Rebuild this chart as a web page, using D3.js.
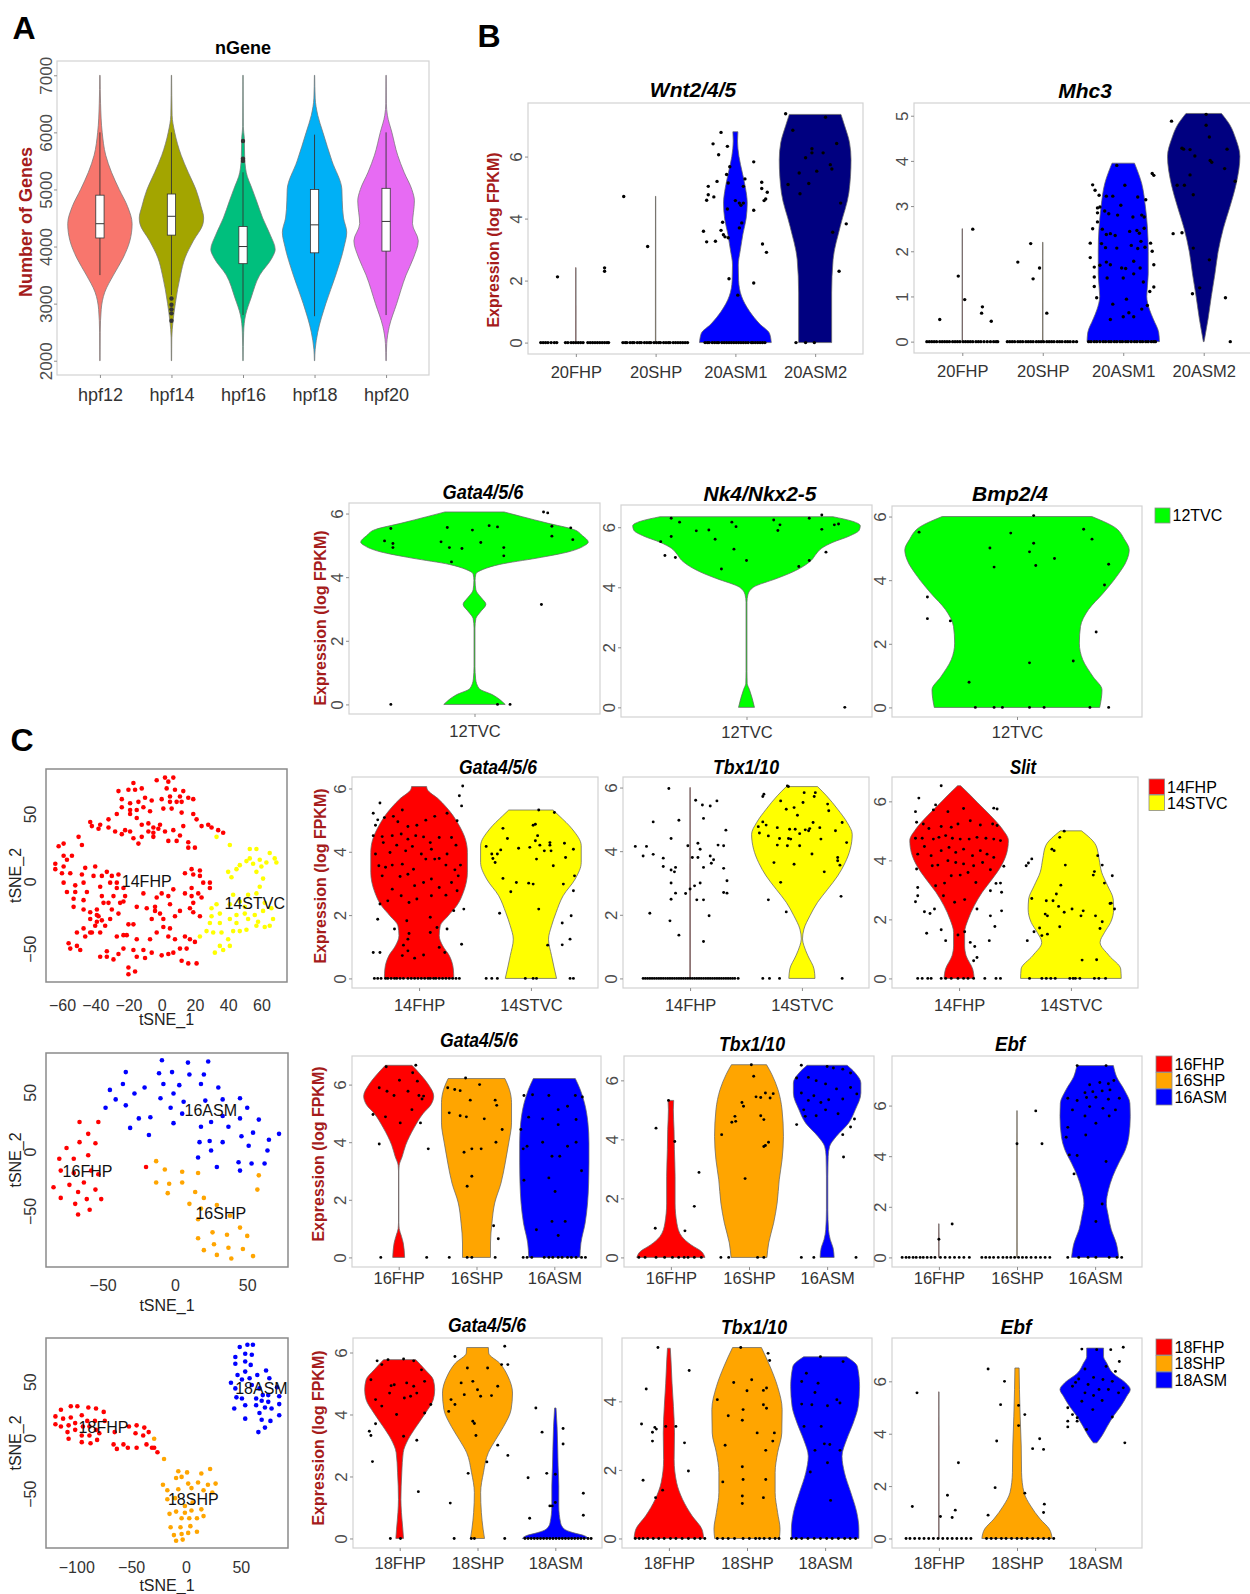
<!DOCTYPE html>
<html>
<head>
<meta charset="utf-8">
<script src="https://cdn.jsdelivr.net/npm/d3@7"></script>
<style>
  body { margin: 0; background: #fff; }
  svg text { font-family: 'Liberation Sans', Arial, Helvetica, sans-serif; }
</style>
</head>
<body>
<svg id="fig" width="1250" height="1594"></svg>
<script>
// ---------- panel A data ----------
const hpfCats = ['hpf12', 'hpf14', 'hpf16', 'hpf18', 'hpf20'];
const hpfColors = ['#F8766D', '#A3A500', '#00BF7D', '#00B0F6', '#E76BF3'];
const nGeneTicks = [2000, 3000, 4000, 5000, 6000, 7000];
// violin profiles: [value, relative half width]
const nGeneShape = [
  [[2000,0.005],[2500,0.01],[2900,0.04],[3200,0.15],[3500,0.42],[3800,0.72],[4100,0.93],[4400,1],[4700,0.86],[5000,0.6],[5300,0.36],[5600,0.18],[6000,0.07],[6500,0.02],[7000,0.005]],
  [[2000,0.005],[2400,0.01],[2700,0.05],[3000,0.12],[3500,0.28],[3800,0.42],[4100,0.68],[4400,0.98],[4500,1],[4700,0.92],[5000,0.76],[5300,0.52],[5600,0.3],[6000,0.1],[6300,0.02],[7000,0.005]],
  [[2000,0.005],[2500,0.02],[2800,0.08],[3100,0.25],[3500,0.52],[3800,0.9],[3950,1],[4200,0.85],[4500,0.61],[4800,0.42],[5000,0.29],[5300,0.1],[5600,0.05],[5900,0.04],[6100,0.01],[7000,0.005]],
  [[2000,0.005],[2200,0.02],[2500,0.1],[3000,0.35],[3500,0.66],[4000,0.92],[4250,1],[4500,0.9],[4800,0.86],[5000,0.85],[5500,0.54],[6000,0.26],[6300,0.1],[6600,0.02],[7000,0.005]],
  [[2000,0.005],[2300,0.02],[2600,0.1],[3000,0.33],[3500,0.62],[3800,0.85],[4100,1],[4400,0.82],[4800,0.88],[5000,0.8],[5300,0.56],[5600,0.36],[6000,0.18],[6300,0.04],[6500,0.01],[7000,0.005]]
];
// [low whisker, q1, median, q3, high whisker]
const nGeneBox = [
  [3500, 4150, 4400, 4900, 6000],
  [3150, 4200, 4530, 4920, 6000],
  [2800, 3700, 4000, 4350, 5300],
  [2780, 3890, 4380, 5000, 5960],
  [2800, 3920, 4440, 5020, 6000]
];
const nGeneOutliers = [[], [3090, 2980, 2900, 2830, 2700], [5500, 5540, 5850], [], []];

// ---------- panel B, 20 hpf ----------
const cats20 = ['20FHP', '20SHP', '20ASM1', '20ASM2'];
const colors20 = ['#ff0000', '#ffa500', '#0000ff', '#000080'];
const wnt20Shape = [
  [[0,0.006],[2.42,0.004]],
  [[0,0.006],[4.72,0.004]],
  [[0,1],[0.3,0.95],[0.6,0.68],[1,0.4],[1.5,0.17],[2,0.09],[2.5,0.08],[3,0.14],[3.5,0.21],[4,0.3],[4.5,0.33],[5,0.28],[5.5,0.19],[6,0.1],[6.5,0.06],[6.8,0.07]],
  [[0,0.46],[1.6,0.46],[2.68,0.5],[3.75,0.7],[4.83,0.94],[5.9,1],[6.44,0.96],[7.0,0.82],[7.36,0.72]]
];
const wnt20Dots = [
  [[-0.23,2.12],[0.36,2.3],[0.36,2.41]],
  [[-0.4,4.71],[-0.1,3.1]],
  [[-0.18,6.78],[-0.28,6.41],[-0.1,6.33],[-0.21,6.06],[-0.07,5.67],[0.23,5.83],[-0.23,5.2],[-0.11,5.42],[-0.09,5.15],[0.12,5.28],[0.1,5.04],[-0.34,5.04],[0.33,5.17],[0.33,4.97],[0.4,4.85],[-0.34,4.77],[-0.27,4.7],[-0.36,4.59],[0,4.58],[0.05,4.5],[0.1,4.5],[0.07,4.43],[0.36,4.58],[0.38,4.63],[-0.1,4.31],[0.23,4.27],[-0.16,3.88],[0.08,3.86],[0.05,3.7],[-0.4,3.59],[-0.18,3.62],[-0.15,3.48],[-0.13,3.41],[-0.09,3.38],[-0.36,3.25],[-0.25,3.27],[0.34,3.18],[0.39,2.91],[-0.08,2.06],[0.23,1.92],[0.03,1.53]],
  [[-0.37,7.38],[-0.28,6.85],[0.13,7.27],[-0.04,6.25],[-0.04,6.12],[-0.12,5.96],[0.1,6.12],[0.27,6.42],[-0.2,5.47],[0.02,5.53],[0.19,5.74],[0.21,5.6],[-0.34,5.1],[-0.08,5.13],[-0.19,4.8],[0.32,4.5],[0.39,3.83],[0.22,3.56],[0.3,2.3]]
];
const wnt20Zero = [
  [-0.44,-0.41,-0.38,-0.35,-0.31,-0.27,-0.24,-0.13,-0.1,-0.06,-0.03,0,0.03,0.06,0.09,0.15,0.18,0.21,0.24,0.27,0.3,0.33,0.36,0.39,0.41],
  [-0.41,-0.38,-0.36,-0.32,-0.29,-0.27,-0.23,-0.2,-0.18,-0.14,-0.11,-0.08,-0.06,-0.02,0.01,0.04,0.06,0.1,0.13,0.16,0.18,0.22,0.25,0.28,0.31,0.34,0.37,0.4],
  [-0.38,-0.35,-0.33,-0.29,-0.26,-0.23,-0.21,-0.17,-0.14,-0.11,-0.08,-0.05,-0.02,0.01,0.04,0.07,0.1,0.13,0.16,0.2,0.22,0.25,0.28,0.31,0.34,0.37],
  [-0.24,-0.12,-0.01]
];
const mhc20Shape = [
  [[0,0.006],[2.5,0.004]],
  [[0,0.006],[2.2,0.004]],
  [[0,1],[0.2,0.98],[0.5,0.83],[0.7,0.73],[1,0.65],[1.5,0.69],[2,0.69],[2.5,0.67],[3,0.61],[3.5,0.51],[3.95,0.31]],
  [[0,0.01],[0.5,0.12],[1,0.21],[1.5,0.31],[2,0.4],[2.5,0.54],[3,0.73],[3.5,0.9],[4.1,1],[4.5,0.88],[4.8,0.72],[5.05,0.49]]
];
const mhc20Dots = [
  [[-0.28,0.49],[-0.05,1.45],[0.03,0.93],[0.13,2.49],[0.25,0.77],[0.24,0.63],[0.36,0.45]],
  [[-0.31,1.76],[-0.15,2.17],[-0.04,1.63],[-0.12,1.39],[0.05,0.63]],
  [[-0.38,3.47],[-0.35,3.35],[-0.3,3.24],[-0.08,3.9],[0.02,3.46],[-0.32,2.96],[-0.29,2.98],[-0.21,3.22],[-0.13,3.22],[-0.03,3.02],[0.18,3.2],[0.28,3.14],[-0.32,2.85],[-0.23,2.89],[-0.18,2.83],[-0.07,2.8],[0.12,2.76],[0.23,2.8],[0.26,2.76],[-0.32,2.65],[-0.38,2.5],[-0.26,2.49],[-0.21,2.37],[-0.16,2.39],[-0.1,2.35],[0.08,2.44],[0.17,2.46],[0.2,2.4],[0.26,2.51],[-0.41,2.18],[-0.27,2.17],[-0.22,2.08],[-0.08,2.07],[0.1,2.13],[0.18,2.06],[0.22,2.22],[0.27,2.09],[0.34,2.18],[0.36,2],[-0.41,1.86],[-0.36,1.65],[-0.29,1.69],[-0.21,1.76],[-0.16,1.7],[-0.02,1.63],[0.03,1.62],[0.13,1.78],[0.21,1.63],[0.38,1.7],[-0.36,1.43],[-0.36,1.22],[-0.33,0.97],[-0.2,1.41],[0,1.41],[0.13,1.5],[0.25,1.32],[0.38,1.21],[0.33,1.11],[0.3,0.8],[0.23,0.72],[-0.13,0.83],[0.04,0.94],[-0.16,0.49],[0,0.55],[0.07,0.64],[0.13,0.55],[0.36,3.72],[0.38,3.68]],
  [[-0.4,4.88],[0.03,5.03],[0.03,4.79],[0.07,4.53],[-0.27,4.28],[-0.25,4.26],[-0.17,4.25],[-0.11,4.11],[0.08,4.01],[0.1,3.97],[0.29,4.26],[-0.17,3.69],[-0.24,3.46],[-0.33,3.46],[-0.13,3.25],[0.26,3.83],[0.39,3.55],[-0.38,2.39],[-0.27,2.41],[-0.13,2.07],[0.07,1.81],[-0.05,1.19],[-0.14,1.06],[0.27,0.97],[0.33,0]]
];
const mhc20Zero = [
  [-0.44,-0.41,-0.38,-0.35,-0.32,-0.28,-0.25,-0.22,-0.19,-0.16,-0.12,-0.09,-0.06,-0.03,0.01,0.04,0.07,0.1,0.13,0.17,0.2,0.23,0.27,0.31,0.35,0.39,0.42,0.44],
  [-0.44,-0.41,-0.38,-0.35,-0.31,-0.28,-0.25,-0.21,-0.18,-0.15,-0.12,-0.08,-0.05,-0.02,0.01,0.05,0.08,0.11,0.14,0.18,0.21,0.24,0.28,0.31,0.34,0.38,0.42],
  [-0.43,-0.4,-0.36,-0.33,-0.29,-0.25,-0.22,-0.18,-0.15,-0.11,-0.08,-0.04,-0.01,0.03,0.06,0.1,0.14,0.17,0.21,0.24,0.28,0.31,0.35,0.38,0.4],
  []
];

// ---------- 12 hpf ----------
const cats12 = ['12TVC'];
const colors12 = ['#00ff00'];
const gata12Shape = [[[0,0.27],[0.3,0.16],[0.5,0.04],[0.8,0.01],[1.2,0.004],[2.4,0.004],[2.7,0.012],[2.9,0.05],[3.15,0.1],[3.35,0.06],[3.6,0.012],[3.9,0.005],[4.1,0.012],[4.25,0.08],[4.4,0.22],[4.6,0.55],[4.8,0.83],[5.0,0.97],[5.1,1],[5.3,0.95],[5.5,0.87],[5.7,0.64],[5.9,0.42],[6.05,0.26]]];
const gata12Dots = [[[-0.43,5.14],[-0.4,5.53],[-0.39,5.06],[-0.39,4.93],[-0.16,5.11],[-0.13,5.56],[-0.12,4.93],[-0.11,4.48],[-0.06,4.9],[-0.01,5.48],[0.03,5.09],[0.07,5.62],[0.11,5.58],[0.14,4.93],[0.14,4.67],[0.33,6.05],[0.35,6.02],[0.37,5.6],[0.37,5.29],[0.46,5.55],[0.47,5.18],[0.32,3.14]]];
const gata12Zero = [[-0.4, 0.11, 0.17]];
const nk12Shape = [[[0,0.07],[0.3,0.05],[0.6,0.025],[0.8,0.006],[1.2,0.004],[3.5,0.004],[3.75,0.012],[4.0,0.06],[4.3,0.27],[4.5,0.4],[4.7,0.5],[4.9,0.57],[5.1,0.61],[5.3,0.66],[5.5,0.76],[5.7,0.9],[5.9,0.99],[6.05,1],[6.2,0.93],[6.35,0.76]]];
const nk12Dots = [[[-0.41,5.52],[-0.39,5.06],[-0.34,4.99],[-0.36,5.69],[-0.36,6.3],[-0.32,6.17],[-0.24,5.88],[-0.18,5.91],[-0.15,5.6],[-0.12,4.61],[-0.07,6.17],[-0.05,6.02],[-0.06,5.27],[0,4.89],[0.13,6.24],[0.16,6.08],[0.15,5.89],[0.25,4.69],[0.3,4.89],[0.3,6.3],[0.36,6.41],[0.36,5.93],[0.38,5.17],[0.42,6.08],[0.44,6.11]]];
const nk12Zero = [[0.47]];
const bmp12Shape = [[[0,0.73],[0.55,0.75],[0.97,0.67],[1.5,0.58],[2.02,0.55],[2.54,0.56],[3.07,0.63],[3.59,0.76],[4.12,0.88],[4.64,0.97],[4.95,0.99],[5.27,0.95],[5.69,0.85],[6.0,0.66]]];
const bmp12Dots = [[[-0.47,5.51],[-0.43,3.47],[-0.43,2.79],[-0.32,2.72],[-0.23,0.79],[-0.13,5.01],[-0.11,4.41],[-0.03,5.48],[0.06,4.89],[0.08,6.03],[0.08,5.16],[0.09,4.46],[0.18,4.68],[0.06,1.4],[0.27,1.46],[0.32,5.6],[0.36,5.29],[0.38,2.37],[0.42,3.85],[0.44,4.5]]];
const bmp12Zero = [[-0.2, -0.11, -0.07, 0.06, 0.13, 0.35, 0.44]];

// ---------- 14 hpf ----------
const cats14 = ['14FHP', '14STVC'];
const colors14 = ['#ff0000', '#ffff00'];
const gata14Shape = [
  [[0,0.69],[0.3,0.68],[0.72,0.6],[1.03,0.47],[1.35,0.4],[1.66,0.42],[1.98,0.58],[2.3,0.75],[2.72,0.88],[3.35,0.96],[3.98,0.96],[4.4,0.92],[4.82,0.8],[5.24,0.63],[5.66,0.39],[5.98,0.16],[6.06,0.15]],
  [[0,0.51],[0.72,0.41],[1.24,0.35],[1.66,0.41],[2.08,0.5],[2.61,0.64],[3.14,0.88],[3.66,1],[4.19,1],[4.72,0.82],[5.14,0.56],[5.32,0.44]]
];
const gata14Dots = [
  [[-0.41,5.22],[-0.35,5.54],[-0.37,5.01],[-0.39,4.84],[-0.31,5.08],[-0.23,5.12],[-0.15,5.32],[-0.19,4.95],[-0.1,4.8],[-0.02,4.84],[0.06,5],[0.14,5.12],[0.25,5.22],[0.34,4.98],[0.36,5.77],[0.38,5.45],[0.39,6.08],[-0.41,4.51],[-0.33,4.48],[-0.24,4.51],[-0.16,4.56],[-0.1,4.4],[-0.03,4.51],[0.04,4.47],[0.1,4.29],[0.18,4.45],[0.29,4.45],[0.33,4.21],[-0.39,3.93],[-0.32,4.29],[-0.26,3.98],[-0.2,4.21],[-0.12,4.03],[-0.06,4.17],[0.02,3.93],[0.11,4.08],[0.18,3.79],[0.25,3.93],[-0.36,3.56],[-0.3,3.51],[-0.24,3.58],[-0.15,3.61],[-0.1,3.29],[-0.05,3.45],[0.06,3.77],[0.14,3.77],[0.24,3.58],[0.32,3.43],[0.37,3.58],[-0.33,3.24],[-0.17,3.22],[-0.04,2.93],[0.04,3.03],[0.11,3.14],[0.18,2.87],[0.29,3.03],[0.35,3.24],[-0.24,2.82],[-0.16,2.61],[-0.09,2.4],[-0.02,2.51],[0.11,2.61],[0.24,2.63],[0.34,2.77],[-0.35,2.35],[-0.28,2.45],[0.31,2.14],[0.4,2.19],[-0.37,1.87],[-0.11,1.82],[0.1,1.93],[0.16,1.61],[0.25,1.56],[-0.22,1.56],[-0.09,1.42],[0.1,1.45],[0.38,1.08],[-0.41,0.82],[-0.35,0.82],[-0.14,1.05],[-0.1,0.87],[0.04,0.74],[-0.04,0.64],[-0.15,0.72],[0.18,0.98],[0.23,0.82],[-0.1,1.24]],
  [[0.07,5.32],[0.21,5.24],[-0.25,4.74],[-0.21,4.42],[-0.4,4.17],[-0.35,3.93],[-0.34,3.79],[-0.32,3.66],[-0.3,3.93],[-0.27,4.06],[-0.11,4.11],[-0.01,4.14],[0.04,4.35],[0.06,4.51],[0.02,4.84],[0.04,4.87],[0.08,4.21],[0.12,4.03],[0.17,4.21],[0.18,4.03],[0.17,4.29],[0.3,4.27],[0.38,4.08],[0.2,3.56],[0.05,3.77],[0.31,3.82],[-0.25,3.16],[-0.13,3.03],[-0.02,3.01],[0.02,2.98],[0.39,3.24],[0.29,2.98],[-0.18,2.74],[0.38,2.77],[0.07,2.19],[-0.28,2.06],[0.36,1.98],[0.28,1.75],[0.35,1.24],[0.15,1.05],[0.28,1.06]]
];
const gata14Zero = [
  [-0.4,-0.37,-0.34,-0.3,-0.28,-0.25,-0.22,-0.2,-0.17,-0.14,-0.1,-0.07,-0.04,-0.01,0.02,0.05,0.08,0.1,0.13,0.15,0.18,0.21,0.24,0.27,0.3,0.33,0.36],
  [-0.4,-0.35,-0.3,-0.05,0.02,0.05,0.35,0.38]
];
const tbx14Shape = [
  [[0,0.006],[6.0,0.004]],
  [[0,0.26],[0.3,0.24],[0.71,0.12],[1.03,0.04],[1.24,0.012],[1.55,0.04],[1.97,0.16],[2.39,0.31],[2.8,0.51],[3.22,0.71],[3.64,0.86],[4.06,0.96],[4.53,1],[4.9,0.9],[5.32,0.71],[5.74,0.49],[6.03,0.31]]
];
const tbx14Dots = [
  [[-0.19,5.97],[0.05,5.6],[0.11,5.45],[0.18,5.42],[0.24,5.58],[-0.33,4.92],[-0.1,4.97],[0.12,5.03],[0.32,4.66],[-0.17,4.4],[-0.49,4.15],[-0.39,4.15],[-0.42,3.85],[-0.33,3.9],[-0.02,4.17],[0.07,4.25],[0.09,4.06],[0.18,3.85],[0.25,4.19],[0.3,4.17],[0.02,3.8],[0.07,3.8],[0.21,3.73],[-0.24,3.78],[0.19,3.62],[-0.24,3.52],[-0.13,3.49],[-0.14,3.35],[0.12,3.49],[-0.17,3.41],[0.3,3.46],[-0.17,3],[0.09,3],[0.33,3.07],[0.04,2.91],[0,2.81],[-0.04,2.67],[-0.13,2.68],[0.3,2.7],[0.33,2.68],[0.12,2.47],[0.06,2.47],[-0.17,2.49],[-0.36,2.05],[0.17,1.97],[-0.18,1.81],[-0.1,1.36],[0.12,1.16]],
  [[-0.34,5.79],[-0.35,5.72],[-0.13,6.05],[-0.12,6.03],[-0.19,5.58],[0.02,5.84],[0.01,5.53],[0.12,5.84],[0.11,5.72],[0.23,5.48],[0.24,5.27],[-0.14,5.32],[-0.07,5.37],[-0.04,5.13],[0.1,4.9],[-0.35,4.92],[-0.39,4.77],[-0.32,4.82],[-0.22,4.74],[-0.11,4.69],[-0.06,4.69],[0.03,4.67],[0.07,4.71],[0.06,4.64],[0.16,4.74],[0.36,4.9],[-0.38,4.57],[-0.3,4.48],[-0.2,4.4],[-0.12,4.4],[-0.1,4.38],[-0.02,4.55],[0.17,4.38],[0.3,4.64],[0.4,4.27],[-0.22,4.19],[-0.13,4.17],[-0.02,4.17],[0.09,3.91],[0.32,3.8],[0.32,3.7],[0.34,3.56],[-0.25,3.64],[-0.07,3.59],[0.2,3.35],[-0.19,3.02],[0.35,2.58],[-0.3,2.47],[-0.14,2.09]]
];
const tbx14Zero = [
  [-0.42,-0.4,-0.38,-0.36,-0.34,-0.32,-0.3,-0.28,-0.26,-0.24,-0.22,-0.2,-0.18,-0.16,-0.14,-0.12,-0.1,-0.08,-0.06,-0.04,-0.02,0,0.02,0.04,0.06,0.08,0.1,0.12,0.14,0.16,0.18,0.2,0.22,0.24,0.26,0.28,0.3,0.32,0.34,0.36,0.38,0.4,0.43],
  [-0.35,-0.29,-0.2,0.36]
];
const slit14Shape = [
  [[0,0.3],[0.32,0.27],[0.77,0.14],[1.1,0.11],[1.56,0.11],[2.0,0.18],[2.46,0.3],[2.92,0.46],[3.37,0.66],[3.82,0.84],[4.27,0.95],[4.67,0.98],[5.06,0.86],[5.51,0.63],[5.97,0.36],[6.3,0.17],[6.53,0.03]],
  [[0,1],[0.32,0.99],[0.77,0.76],[1.22,0.58],[1.56,0.67],[1.9,0.79],[2.35,0.85],[2.69,0.84],[3.14,0.73],[3.6,0.61],[4.05,0.56],[4.5,0.5],[5.0,0.21]]
];
const slit14Dots = [
  [[-0.16,6.53],[-0.36,6.11],[-0.21,5.88],[-0.23,5.71],[-0.1,5.65],[0.04,5.76],[0.31,5.77],[0.34,5.74],[-0.39,5.65],[-0.38,5.29],[-0.32,5.23],[-0.27,5.08],[-0.16,5.15],[-0.07,5.12],[-0.01,5.23],[0.1,5.34],[0.19,5.2],[0.3,5.23],[0.34,5.18],[-0.39,4.75],[-0.33,4.75],[-0.23,4.72],[-0.18,4.78],[-0.12,4.84],[-0.06,4.75],[0.01,4.72],[0.09,4.72],[0.16,4.78],[0.24,4.75],[0.31,4.72],[0.37,4.67],[-0.37,4.21],[-0.31,4.47],[-0.25,4.16],[-0.16,4.33],[-0.09,4.44],[-0.03,4.27],[0.04,4.38],[0.12,4.16],[0.19,4.33],[0.25,4.21],[0.31,4.1],[-0.24,3.82],[-0.19,3.84],[-0.1,3.99],[-0.03,3.93],[0.04,3.88],[0.13,3.82],[0.21,3.93],[0.28,3.68],[0.4,3.8],[-0.38,3.71],[-0.07,3.48],[0.01,3.5],[0.08,3.59],[0.15,3.25],[0.33,3.22],[0.37,3.23],[-0.37,3.08],[-0.21,3.14],[-0.13,3.23],[0.28,2.97],[0.38,2.92],[-0.39,2.6],[-0.37,2.8],[-0.14,2.8],[-0.04,2.58],[0.05,2.67],[-0.31,2.26],[-0.26,2.2],[-0.22,2.35],[0.16,2.35],[0.28,2.12],[0.38,2.29],[-0.16,1.65],[0.05,1.58],[0.32,1.76],[-0.29,1.53],[-0.12,1.28],[-0.01,1.47],[0.1,1.22],[0.14,1.08],[0.27,1.28],[0.16,0.71],[0.13,0.6]],
  [[-0.06,4.99],[-0.1,4.78],[-0.17,4.38],[-0.15,4.33],[-0.4,3.82],[-0.38,3.91],[-0.35,4.05],[-0.05,3.84],[0.24,4.16],[0.28,3.84],[0.37,3.48],[0.2,3.5],[0.21,3.62],[-0.09,3.16],[0.3,3.23],[-0.35,2.71],[-0.13,2.86],[-0.22,2.63],[-0.16,2.63],[-0.11,2.44],[-0.06,2.24],[0.01,2.35],[0.11,2.29],[0.09,2.12],[0.35,2.54],[0.36,2.55],[0.39,2.35],[-0.23,2.18],[-0.21,2.12],[0.22,2.12],[0.28,1.92],[-0.1,1.75],[-0.28,1.71],[-0.33,1.58],[-0.26,1.45],[-0.21,1.5],[0.26,1.69],[-0.39,1.28],[0.1,0.62],[0.23,0.63]]
];
const slit14Zero = [
  [-0.37,-0.33,-0.28,-0.25,-0.16,-0.12,-0.07,-0.01,0.04,0.08,0.13,0.23,0.33,0.37],
  [-0.37,-0.26,-0.22,-0.18,-0.14,-0.01,0.02,0.04,0.08,0.21,0.25,0.31]
];

// ---------- 16 hpf ----------
const cats16 = ['16FHP', '16SHP', '16ASM'];
const colors16 = ['#ff0000', '#ffa500', '#0000ff'];
const gata16Shape = [
  [[0,0.17],[0.5,0.13],[0.73,0.08],[1.0,0.015],[1.2,0.005],[3.0,0.005],[3.2,0.015],[3.5,0.1],[3.9,0.2],[4.5,0.44],[5.0,0.7],[5.3,0.92],[5.6,1],[6.0,0.85],[6.3,0.66],[6.67,0.38]],
  [[0,0.4],[0.5,0.4],[1.19,0.44],[1.89,0.52],[2.58,0.7],[3.28,0.82],[3.97,0.92],[4.67,1],[5.37,1],[5.83,0.94],[6.21,0.81]],
  [[0,0.73],[0.5,0.76],[1.19,0.88],[1.89,0.95],[2.58,0.98],[3.28,0.99],[3.97,0.99],[4.67,0.96],[5.37,0.86],[5.83,0.74],[6.21,0.6]]
];
const gata16Dots = [
  [[-0.16,6.62],[0.22,6.67],[-0.25,5.89],[-0.15,5.77],[-0.06,5.62],[0.01,6.15],[0.12,5.77],[0.24,6.12],[0.26,5.62],[0.3,5.5],[0.32,5.6],[0.18,6.41],[-0.33,4.96],[-0.17,4.88],[0.17,5.13],[0.02,4.67],[0.28,4.67],[-0.25,3.94],[0.38,3.77]],
  [[-0.37,5.89],[-0.14,6.23],[-0.28,5.83],[-0.21,5.79],[0.04,6],[-0.35,5.02],[-0.21,4.92],[-0.13,4.88],[0.1,4.81],[0.24,5.46],[0.26,5.28],[0.33,4.44],[-0.08,5.46],[-0.06,3.77],[-0.16,3.65],[0.06,3.77],[0.25,4],[-0.12,2.47],[-0.06,2.82],[0.22,1.1],[0.28,0.65]],
  [[-0.39,5.62],[-0.28,5.65],[-0.07,5.62],[0.27,5.62],[0.36,5.57],[0.17,5.25],[-0.33,4.87],[-0.15,4.81],[0.05,5.13],[0.05,4.61],[0.28,4.79],[-0.43,4.44],[-0.4,3.77],[-0.35,3.86],[-0.15,4],[-0.03,3.51],[0.07,3.51],[0.28,4],[0.17,3.86],[-0.39,2.68],[-0.07,2.76],[0.01,2.29],[0.35,3.01],[-0.23,0.96],[-0.03,1.25],[0.14,1.25],[0.05,0.76]]
];
const gata16Zero = [
  [-0.23, 0.36],
  [-0.35, -0.12, -0.06, 0.24],
  [-0.4,-0.35,-0.29,-0.13,-0.07,-0.02,0.05,0.1,0.17,0.22,0.28,0.35,0.4]
];
const tbx16Shape = [
  [[0,0.97],[0.2,0.87],[0.43,0.57],[0.71,0.31],[1.16,0.17],[1.84,0.12],[2.75,0.12],[3.65,0.1],[4.33,0.09],[5.0,0.07],[5.32,0.08]],
  [[0,0.51],[0.49,0.56],[1.16,0.7],[1.84,0.8],[2.63,0.86],[3.31,0.94],[4.1,0.98],[5.0,0.94],[5.7,0.82],[6.2,0.65],[6.53,0.5]],
  [[0,0.2],[0.32,0.17],[0.6,0.09],[0.94,0.04],[1.62,0.02],[2.75,0.02],[3.42,0.03],[3.76,0.07],[4.1,0.26],[4.55,0.61],[5.0,0.8],[5.57,0.96],[5.91,0.96],[6.25,0.8],[6.51,0.57]]
];
const tbx16Dots = [
  [[-0.03,5.32],[-0.19,4.38],[0.05,3.93],[0.36,2.88],[0.3,1.73],[-0.2,0.99],[0.18,0.9]],
  [[0.03,6.53],[0.06,6.14],[0.21,5.57],[0.31,5.55],[0.27,5.4],[0.09,5.44],[0.15,5.42],[-0.09,5.25],[-0.07,5.12],[-0.18,4.78],[-0.17,4.61],[-0.22,4.58],[0.15,4.8],[0.19,4.67],[-0.35,4.16],[0.21,3.79],[0.25,3.9],[0.19,3.76],[-0.05,2.67]],
  [[-0.33,6.51],[0,6.47],[0.08,6.42],[0.2,6.38],[0.3,6.25],[-0.39,6.08],[-0.24,6.1],[-0.14,5.99],[-0.02,5.88],[0.12,5.71],[0.3,5.76],[0.38,5.54],[-0.33,5.57],[-0.17,5.48],[-0.24,5.32],[-0.08,5.25],[0.02,5.34],[0.2,5.37],[-0.3,5],[-0.14,4.8],[-0.28,4.78],[-0.02,5],[0.14,4.87],[0.35,4.69],[-0.39,4.5],[0.3,4.42],[0.2,4.16],[0.21,3.4]]
];
const tbx16Zero = [
  [-0.41,-0.33,-0.19,-0.08,0.02,0.1,0.17,0.22,0.3,0.39],
  [-0.36,-0.26,0.11,0.19],
  [-0.33,-0.17,0.37]
];
const ebf16Shape = [
  [[0,0.006],[1.33,0.004]],
  [[0,0.006],[5.8,0.004]],
  [[0,0.67],[0.57,0.6],[1.09,0.46],[1.62,0.38],[2.14,0.32],[2.67,0.38],[3.2,0.5],[3.72,0.67],[4.25,0.86],[4.78,0.96],[5.57,1],[6.09,0.99],[6.62,0.83],[7.14,0.61],[7.58,0.52]]
];
const ebf16Dots = [
  [[0,0.72],[0.17,1.32]],
  [[0,4.49],[0.24,5.79],[0.32,4.49]],
  [[-0.23,7.58],[0.14,7.58],[-0.07,6.82],[0.06,6.91],[0.17,6.86],[0.24,6.99],[-0.13,6.51],[-0.03,6.55],[0.09,6.58],[0.19,6.62],[-0.35,6.29],[-0.23,6.2],[-0.11,6.32],[0.01,6.33],[0.17,6.25],[0.31,6.29],[-0.29,5.83],[-0.07,5.96],[0.1,5.89],[0.26,5.83],[-0.13,5.59],[0.18,5.59],[-0.35,5.14],[0.01,5.3],[-0.37,4.75],[-0.12,4.84],[-0.33,4.05],[-0.23,4.03],[0.14,3.79],[-0.27,3.3],[0.09,2.11],[0.01,1.42]]
];
const ebf16Zero = [
  [-0.47,-0.42,-0.38,-0.33,-0.29,-0.24,-0.2,-0.15,-0.1,-0.05,0.02,0.08,0.14,0.2,0.26,0.32,0.39],
  [-0.45,-0.4,-0.35,-0.3,-0.24,-0.18,-0.13,-0.08,-0.03,0.02,0.07,0.12,0.18,0.24,0.3,0.36,0.42],
  [-0.35,-0.21,-0.09,0.01,0.18,0.28,0.34]
];

// ---------- 18 hpf ----------
const cats18 = ['18FHP', '18SHP', '18ASM'];
const colors18 = ['#ff0000', '#ffa500', '#0000ff'];
const gata18Shape = [
  [[0,0.11],[0.3,0.09],[0.84,0.05],[1.26,0.035],[2.12,0.06],[2.77,0.1],[3.19,0.24],[3.62,0.48],[4.05,0.74],[4.48,0.96],[4.8,1],[5.12,0.96],[5.44,0.73],[5.77,0.46]],
  [[0,0.2],[0.3,0.16],[0.84,0.11],[1.48,0.09],[2.12,0.17],[2.77,0.31],[3.19,0.52],[3.62,0.75],[4.16,0.96],[4.69,1],[5.23,0.87],[5.66,0.63],[5.98,0.32],[6.16,0.31]],
  [[0,0.94],[0.09,0.83],[0.19,0.5],[0.3,0.26],[0.51,0.15],[1.05,0.1],[1.69,0.1],[2.34,0.08],[2.87,0.07],[3.62,0.05],[4.21,0.02]]
];
const gata18Dots = [
  [[-0.29,5.73],[-0.15,5.77],[0.05,5.79],[0.18,5.73],[-0.23,5.61],[0.28,5.44],[-0.37,5.12],[-0.11,4.93],[-0.07,4.96],[0.09,5.02],[0.18,4.91],[0.32,5.07],[-0.31,4.48],[-0.13,4.69],[0.14,4.59],[0.22,4.69],[0.4,4.32],[-0.23,4.27],[-0.04,4],[0.06,4.53],[-0.31,3.7],[0.32,4.05],[-0.39,3.46],[-0.37,3.32],[0.05,3.3],[0.22,3.17],[-0.35,2.48],[0.24,1.51]],
  [[-0.29,5.87],[-0.13,5.5],[-0.21,5.02],[-0.34,4.48],[-0.29,4.32],[-0.37,4.1],[-0.17,4.64],[-0.06,5.07],[0,4.8],[0.13,5.5],[0.18,4.61],[0.04,4.59],[0.26,4.91],[0.31,5.61],[0.35,6.2],[0.39,5.61],[-0.04,3.71],[-0.02,3.32],[-0.06,3.78],[0.12,2.47],[-0.12,2.1],[0.26,3.01],[0.39,2.68],[-0.35,1.14]],
  [[-0.25,4.21],[-0.17,3.43],[0.1,3.55],[0.1,3.05],[-0.35,1.96],[-0.11,2.1],[0,2.07],[0.36,1.46],[-0.07,1.05],[-0.04,1.05],[-0.33,0.65],[0.36,0.75],[0,1.16]]
];
const gata18Zero = [
  [-0.12, 0.01],
  [-0.3, -0.08, -0.04, 0.35],
  [-0.39,-0.35,-0.31,-0.27,-0.23,-0.19,-0.15,-0.11,-0.07,-0.03,0.01,0.05,0.09,0.13,0.17,0.21,0.25,0.29,0.33,0.37,0.42,0.46]
];
const tbx18Shape = [
  [[0,0.99],[0.27,0.94],[0.66,0.66],[1.14,0.39],[1.63,0.22],[2.3,0.15],[3.08,0.16],[3.85,0.13],[4.53,0.09],[5.21,0.06],[5.55,0.04]],
  [[0,0.92],[0.27,0.94],[0.76,0.87],[1.34,0.8],[1.92,0.8],[2.5,0.87],[3.08,0.99],[3.76,1],[4.43,0.87],[5.01,0.66],[5.57,0.41]],
  [[0,0.96],[0.27,0.96],[0.76,0.9],[1.34,0.73],[1.92,0.55],[2.4,0.48],[2.88,0.61],[3.37,0.8],[3.85,0.94],[4.43,0.98],[5.01,0.92],[5.3,0.61]]
];
const tbx18Dots = [
  [[-0.14,5.57],[-0.29,4.36],[0.26,4.9],[-0.35,3.34],[-0.18,3.24],[-0.21,3.1],[-0.16,3.19],[0.09,3.27],[-0.04,3.27],[-0.21,2.84],[0.2,2.79],[0.25,1.97],[-0.33,1.7],[-0.08,1.41],[-0.17,1.19]],
  [[-0.08,5.57],[0.27,5.4],[0.29,5.19],[-0.17,4.55],[0.06,4.63],[0.25,4.39],[0.21,4.32],[0,4.31],[-0.38,4.05],[0.21,3.9],[0.25,3.8],[-0.24,3.58],[-0.05,3.76],[-0.06,3.45],[0.13,3.08],[0.35,3.08],[0.33,2.84],[-0.28,2.72],[0.24,2.57],[-0.06,2.09],[-0.05,1.72],[-0.31,1.65],[0.24,1.72],[-0.06,1.24],[-0.06,1.02],[0.21,1.19]],
  [[-0.06,5.3],[0.23,5.16],[-0.24,4.82],[-0.09,4.53],[-0.13,4.26],[0.15,4.05],[-0.3,3.92],[-0.17,3.9],[0.03,3.87],[0.19,3.95],[-0.27,3.27],[-0.05,3.27],[-0.01,2.76],[0.06,2.74],[0.19,2.57],[-0.13,2.57],[0.03,2.21],[-0.19,1.94],[0.07,1.11],[-0.3,4.58]]
];
const tbx18Zero = [
  [-0.43,-0.38,-0.33,-0.27,-0.2,-0.13,-0.06,0.02,0.09,0.17,0.25,0.33,0.4,0.46],
  [-0.38,-0.31,-0.24,-0.16,-0.05,0.03,0.11,0.16,0.22,0.29,0.36,0.41],
  [-0.43,-0.37,-0.3,-0.22,-0.14,-0.06,0.02,0.09,0.17,0.25,0.32,0.39]
];
const ebf18Shape = [
  [[0,0.006],[5.6,0.004]],
  [[0,1],[0.36,0.92],[0.74,0.66],[1.24,0.39],[1.75,0.2],[2.51,0.13],[3.53,0.12],[4.67,0.09],[5.69,0.07],[6.51,0.06]],
  [[3.65,0.05],[3.91,0.19],[4.29,0.35],[4.67,0.52],[5.05,0.73],[5.43,0.9],[5.69,1],[5.94,0.87],[6.32,0.5],[6.7,0.33],[6.95,0.24],[7.27,0.24]]
];
const ebf18Dots = [
  [[-0.28,5.56],[-0.34,1.22],[0.25,2.89],[0.11,1.65],[0.21,1.08],[0.17,0.8],[0.02,0.84]],
  [[-0.37,6.47],[-0.16,6],[-0.21,5.11],[0.02,5.08],[0.02,4.31],[0.1,4.73],[-0.26,3.72],[0.29,3.81],[0.2,3.43],[0.34,3.4],[-0.28,1.94],[0.1,1.73],[-0.37,0.89],[0.35,1.31],[0.34,0.99]],
  [[-0.17,7.23],[0.02,7.21],[0.2,7.21],[0.36,7.3],[0.31,6.76],[0.14,6.57],[-0.13,6.47],[0.26,6.38],[-0.21,6.09],[-0.02,6.15],[0.1,6.07],[-0.25,5.96],[-0.09,5.88],[0.22,6],[0.36,5.75],[-0.29,5.81],[0.05,5.69],[0.17,5.69],[-0.13,5.56],[-0.02,5.46],[0.3,5.56],[-0.17,5.24],[0.09,5.27],[-0.35,4.99],[-0.29,4.73],[-0.03,4.92],[-0.23,4.61],[-0.35,4.48],[-0.23,4.48],[-0.11,4.16],[-0.35,4.26],[0.22,4.64],[0.38,3.65]]
];
const ebf18Zero = [
  [-0.42,-0.37,-0.31,-0.25,-0.19,-0.13,-0.07,-0.01,0.05,0.11,0.17,0.23,0.29,0.35,0.41],
  [-0.39,-0.33,-0.27,-0.2,-0.14,-0.07,0,0.06,0.13,0.2,0.27,0.34,0.41,0.47],
  []
];

// ---------- tSNE data ----------
const tsne14Fhp = [[-3,75],[2,77],[7,77],[4,74],[3,69],[8,68],[13,67],[5,63],[11,63],[16,62],[19,61],[-26,67],[-20,68],[-16,68],[-12,69],[-17,73],[-24,61],[-19,58],[-14,59],[-10,62],[-6,60],[0,61],[5,59],[9,59],[12,59],[-24,55],[-19,53],[-15,53],[-11,55],[-7,52],[1,54],[6,54],[12,51],[19,50],[21,46],[24,41],[28,42],[30,40],[34,38],[37,36],[13,41],[7,38],[2,37],[-1,42],[-5,40],[-8,43],[-12,42],[-15,47],[-19,50],[-27,50],[-32,46],[-37,42],[-38,39],[-42,41],[-43,44],[-32,40],[-28,37],[-24,35],[-22,38],[-19,37],[-17,32],[-14,28],[-12,33],[-8,37],[-5,36],[-2,39],[-5,33],[4,30],[9,30],[11,34],[16,29],[20,25],[16,25],
  [-62,26],[-59,28],[-50,33],[-48,27],[-54,19],[-57,16],[-59,19],[-64,13],[-59,11],[-64,9],[-60,6],[-55,6],[-59,-1],[-57,-8],[-52,-3],[-52,-8],[-53,-13],[-53,-19],[-46,10],[-48,5],[-47,-1],[-45,-8],[-47,-14],[-47,-21],[-43,-23],[-40,11],[-41,4],[-36,4],[-33,7],[-37,-4],[-36,-11],[-35,-16],[-39,-21],[-38,-26],[-39,-30],[-43,-28],[-40,-33],[-36,-29],[-43,-38],[-47,-35],[-51,-38],[-46,-41],[-42,-38],[-37,-38],[-34,-33],[-31,-28],[-30,-21],[-32,-16],[-29,-11],[-27,-5],[-31,-1],[-30,4],[-26,5],[-27,-1],[-23,-5],[-22,-11],[-25,-16],[-26,-24],[-23,-15],[-23,-40],[-20,-32],[-17,-32],[-21,-40],[-15,-43],[-17,-51],[-15,-56],[-10,-57],[-11,-51],[-6,-53],[-7,-43],[-3,-38],[1,-34],[5,-35],[4,-41],[8,-43],[0,-55],[4,-54],[7,-53],[11,-50],[15,-50],[17,-43],[20,-45],[12,-59],[16,-61],[21,-61],[-51,-48],[-49,-51],[-56,-46],[-55,-50],[-27,-41],[-33,-52],[-29,-58],[-26,-54],[-37,-56],[-33,-56],[-23,-50],[-20,-64],[-16,-67],[-20,-69],[14,6],[18,9],[19,5],[23,4],[18,-5],[14,-9],[18,-11],[22,-9],[19,-16],[17,-20],[19,-23],[23,-26],[24,-12],[29,-1],[29,-5],[7,-6],[4,-11],[0,-9],[-3,-12],[-4,-19],[-4,-22],[-1,-24],[-6,-28],[1,-28],[5,-17],[8,-26],[11,-22],[14,-41],[25,-1],[-11,-9],[-9,-20],[-15,-19],[-39,-25],[23,8]];
const tsne14Stvc = [[33,33],[41,27],[40,7],[42,3],[45,9],[47,12],[51,15],[53,17],[53,24],[57,24],[59,16],[55,13],[57,7],[60,11],[63,14],[65,21],[68,17],[69,14],[61,2],[59,-4],[57,-9],[52,-10],[50,-19],[47,-15],[43,-10],[41,-17],[30,-20],[33,-17],[35,-24],[30,-26],[35,-31],[29,-31],[31,-38],[36,-38],[40,-43],[35,-48],[32,-53],[37,-51],[41,-48],[45,-31],[41,-28],[45,-25],[50,-24],[52,-28],[56,-25],[58,-30],[61,-22],[62,-16],[66,-20],[67,-28],[62,-34],[65,-33],[57,-33],[51,-36],[47,-37],[43,-37],[23,-41],[27,-37]];
const tsne16Fhp = [[-66,25],[-53,25],[-60,15],[-55,7],[-66,8],[-75,3],[-60,-3],[-80,-6],[-70,-6],[-79,-16],[-70,-18],[-53,-19],[-84,-30],[-73,-28],[-63,-26],[-55,-32],[-79,-39],[-67,-34],[-61,-40],[-51,-40],[-69,-44],[-59,-49],[-67,-53],[-20,-13],[-58,-16]];
const tsne16Shp = [[-13,-8],[-7,-15],[5,-17],[16,-18],[-13,-26],[-4,-27],[5,-26],[-5,-35],[14,-34],[20,-39],[10,-44],[18,-48],[29,-45],[16,-57],[38,-54],[26,-68],[36,-70],[45,-64],[50,-71],[16,-73],[27,-78],[37,-81],[47,-82],[20,-83],[29,-87],[39,-90],[54,-88],[58,-20],[57,-32]];
const tsne16Asm = [[-9,77],[9,75],[23,76],[-34,67],[-11,66],[-2,67],[10,65],[20,65],[-45,52],[-36,57],[-21,54],[-8,57],[3,56],[18,57],[30,54],[-41,44],[-28,49],[-10,45],[-1,49],[6,42],[21,43],[33,44],[45,45],[-48,37],[-34,39],[-3,37],[5,32],[50,37],[-25,28],[-17,29],[-31,20],[-1,24],[18,21],[25,25],[33,30],[37,21],[45,28],[58,27],[-18,14],[17,8],[24,9],[33,8],[46,13],[54,16],[65,10],[16,-5],[25,1],[51,5],[64,1],[72,15],[29,-13],[44,-9],[45,-16],[53,-10],[62,-10]];
const tsne18Fhp = [[-119,19],[-114,25],[-105,28],[-99,28],[-89,27],[-82,26],[-75,23],[-119,12],[-112,17],[-105,18],[-95,20],[-114,10],[-107,11],[-101,13],[-90,15],[-83,15],[-74,15],[-108,5],[-101,7],[-94,10],[-88,10],[-82,7],[-95,2],[-88,2],[-79,4],[-107,-1],[-95,-4],[-87,-5],[-81,-2],[-65,5],[-52,10],[-45,11],[-38,9],[-34,5],[-66,-6],[-63,-10],[-57,-6],[-53,-9],[-46,4],[-45,-9],[-39,2],[-36,-6],[-31,-9],[-26,-13],[-29,-9]];
const tsne18Shp = [[-29,-1],[-20,-19],[-7,-30],[1,-31],[14,-32],[22,-28],[-21,-42],[-9,-36],[-4,-35],[2,-41],[11,-40],[20,-42],[27,-41],[-17,-47],[-7,-46],[5,-45],[16,-47],[24,-49],[-17,-55],[-10,-54],[-1,-61],[6,-58],[-15,-68],[-9,-66],[-1,-67],[5,-65],[14,-64],[16,-70],[-4,-72],[3,-72],[10,-72],[-14,-80],[-5,-80],[4,-79],[10,-84],[-11,-87],[-4,-86],[2,-85],[-9,-92],[-3,-91]];
const tsne18Asm = [[49,81],[56,83],[61,83],[45,72],[54,75],[60,74],[45,66],[54,68],[59,65],[47,56],[54,59],[73,60],[41,49],[51,52],[58,53],[65,56],[76,53],[45,44],[60,47],[67,44],[83,45],[46,36],[51,35],[64,35],[70,38],[75,38],[85,37],[54,29],[64,29],[69,33],[75,32],[85,30],[44,26],[67,22],[72,27],[78,26],[54,17],[69,16],[77,15],[85,20],[72,9],[66,5]];

// ---------- drawing ----------
const svg = d3.select('#fig');
const DARKRED = '#a51c1c';
const TICKCOL = '#4d4d4d';

function panelLetter(t, x, y) {
  svg.append('text').attr('x', x).attr('y', y).text(t)
    .attr('font-size', 32).attr('font-weight', 'bold').attr('text-anchor', 'middle');
}

function rotatedTitle(t, x, cy, size, color) {
  svg.append('text').text(t)
    .attr('transform', `translate(${x},${cy}) rotate(-90)`)
    .attr('text-anchor', 'middle').attr('font-size', size)
    .attr('font-weight', 'bold').attr('fill', color);
}

function violinPanel(p, cats, colors, shapes, dots, zeros) {
  const span = p.yMax - p.yMin;
  const y = d3.scaleLinear()
    .domain([p.yMin - 0.05 * span, p.yMax + 0.05 * span])
    .range([p.bottom, p.top]);
  const x = d3.scalePoint().domain(cats).range([p.left, p.right]).padding(0.6);
  const step = x.step();
  const k = step * (p.vw || 0.45);
  const g = svg.append('g');

  g.append('rect')
    .attr('x', p.left).attr('y', p.top)
    .attr('width', p.right - p.left).attr('height', p.bottom - p.top)
    .attr('fill', '#fff').attr('stroke', '#d2d2d2').attr('stroke-width', 1.2);

  const yAxis = g.append('g')
    .attr('transform', `translate(${p.left},0)`)
    .call(d3.axisLeft(y).tickValues(p.ticks).tickSize(3).tickFormat(d3.format('d')));
  yAxis.select('.domain').remove();
  yAxis.attr('font-family', null).attr('font-size', null);
  yAxis.selectAll('.tick line').attr('stroke', '#8c8c8c');
  yAxis.selectAll('.tick text')
    .attr('x', null).attr('dy', null)
    .attr('text-anchor', 'middle')
    .attr('transform', `translate(${-(p.tickGap || 6)},0) rotate(-90)`)
    .attr('font-size', p.tickFont || 17).attr('fill', TICKCOL);

  const xAxis = g.append('g')
    .attr('transform', `translate(0,${p.bottom})`)
    .call(d3.axisBottom(x).tickSize(3));
  xAxis.select('.domain').remove();
  xAxis.attr('font-family', null).attr('font-size', null);
  xAxis.selectAll('.tick line').attr('stroke', '#8c8c8c');
  xAxis.selectAll('.tick text')
    .attr('y', p.xlabDy).attr('dy', null)
    .attr('font-size', p.xFont || 16.5).attr('fill', '#333');

  const area = d3.area().curve(d3.curveMonotoneY);
  shapes.forEach((s, i) => {
    const cx = x(cats[i]);
    area.y(d => y(d[0])).x0(d => cx - d[1] * k).x1(d => cx + d[1] * k);
    g.append('path').attr('d', area(s))
      .attr('fill', colors[i]).attr('stroke', p.vStroke || '#666').attr('stroke-width', 0.75);
  });

  if (p.boxes) {
    const bw = step * 0.058;
    p.boxes.forEach((b, i) => {
      const cx = x(cats[i]);
      g.append('line').attr('x1', cx).attr('x2', cx).attr('y1', y(b[0])).attr('y2', y(b[4]))
        .attr('stroke', '#333').attr('stroke-width', 0.9);
      g.append('rect').attr('x', cx - bw).attr('width', 2 * bw)
        .attr('y', y(b[3])).attr('height', y(b[1]) - y(b[3]))
        .attr('fill', '#fff').attr('stroke', '#333').attr('stroke-width', 0.8);
      g.append('line').attr('x1', cx - bw).attr('x2', cx + bw).attr('y1', y(b[2])).attr('y2', y(b[2]))
        .attr('stroke', '#333').attr('stroke-width', 1);
    });
  }

  const pts = [];
  cats.forEach((c, i) => {
    (dots[i] || []).forEach(d => pts.push([x(c) + d[0] * step, d[1]]));
    (zeros[i] || []).forEach(dx => pts.push([x(c) + dx * step, 0]));
  });
  g.selectAll('circle.pt').data(pts).join('circle')
    .attr('cx', d => d[0]).attr('cy', d => y(d[1]))
    .attr('r', p.r || 1.45).attr('fill', p.ptFill || '#000');

  if (p.title) {
    const t = g.append('text').attr('x', p.tx).attr('y', p.ty).text(p.title)
      .attr('text-anchor', 'middle').attr('font-size', p.titleFont || 21)
      .attr('font-weight', 'bold').attr('font-style', p.titleItalic === false ? 'normal' : 'italic');
    if (p.titleLen) t.attr('textLength', p.titleLen).attr('lengthAdjust', 'spacingAndGlyphs');
  }
  if (p.yTitle) rotatedTitle(p.yTitle, p.yTitleX, p.yTitleY, p.yTitleFont || 16, DARKRED);
}

function legend(x0, y0, size, names, colors) {
  const g = svg.append('g');
  names.forEach((n, i) => {
    g.append('rect').attr('x', x0).attr('y', y0 + i * size)
      .attr('width', size - 0.5).attr('height', size - 0.5)
      .attr('fill', colors[i]).attr('stroke', '#8a8a8a').attr('stroke-width', 0.8);
    g.append('text').attr('x', x0 + size + 2).attr('y', y0 + i * size + size / 2 + 5.5)
      .text(n).attr('font-size', 16);
  });
}

function tsnePanel(p, groups, colors, labels) {
  const x = d3.scaleLinear().domain(p.xd).range([p.left, p.right]);
  const y = d3.scaleLinear().domain(p.yd).range([p.bottom, p.top]);
  const g = svg.append('g');
  g.append('clipPath').attr('id', p.id).append('rect')
    .attr('x', p.left).attr('y', p.top).attr('width', p.right - p.left).attr('height', p.bottom - p.top);
  const inner = g.append('g').attr('clip-path', `url(#${p.id})`);
  groups.forEach((pts, i) => {
    inner.append('g').selectAll('circle').data(pts).join('circle')
      .attr('cx', d => x(d[0])).attr('cy', d => y(d[1])).attr('r', 2.3).attr('fill', colors[i]);
  });
  labels.forEach(l => {
    inner.append('text').attr('x', x(l[1])).attr('y', y(l[2]) + 5.7).text(l[0])
      .attr('text-anchor', 'middle').attr('font-size', 16).attr('fill', '#111');
  });
  g.append('rect').attr('x', p.left).attr('y', p.top)
    .attr('width', p.right - p.left).attr('height', p.bottom - p.top)
    .attr('fill', 'none').attr('stroke', '#8a8a8a').attr('stroke-width', 1.5);

  const xa = g.append('g').attr('transform', `translate(0,${p.bottom})`)
    .call(d3.axisBottom(x).tickValues(p.xt).tickSize(0));
  xa.select('.domain').remove();
  xa.attr('font-family', null).attr('font-size', null);
  xa.selectAll('.tick text').attr('y', p.xlabY - p.bottom).attr('dy', null)
    .attr('font-size', 16).attr('fill', '#333');

  const ya = g.append('g').attr('transform', `translate(${p.left},0)`)
    .call(d3.axisLeft(y).tickValues(p.yt).tickSize(0));
  ya.select('.domain').remove();
  ya.attr('font-family', null).attr('font-size', null);
  ya.selectAll('.tick text').attr('x', null).attr('dy', null).attr('text-anchor', 'middle')
    .attr('transform', `translate(${30 + 5.5 - p.left},0) rotate(-90)`)
    .attr('font-size', 16).attr('fill', '#333');

  g.append('text').attr('x', (p.left + p.right) / 2).attr('y', p.t1Y).text('tSNE_1')
    .attr('text-anchor', 'middle').attr('font-size', 16).attr('fill', '#222');
  g.append('text').text('tSNE_2')
    .attr('transform', `translate(${20.5},${(p.top + p.bottom) / 2}) rotate(-90)`)
    .attr('text-anchor', 'middle').attr('font-size', 16).attr('fill', '#222');
}

// ---- panel A ----
panelLetter('A', 24, 39);
violinPanel({left: 57, top: 61, right: 429, bottom: 375, yMin: 2000, yMax: 7000, ticks: nGeneTicks,
  tickFont: 17, tickGap: 5, xlabDy: 26, xFont: 18, boxes: nGeneBox, vStroke: '#777',
  r: 2.2, ptFill: '#333',
  title: 'nGene', titleItalic: false, titleFont: 18, tx: 243, ty: 54,
  yTitle: 'Number of Genes', yTitleX: 32, yTitleY: 222, yTitleFont: 18},
  hpfCats, hpfColors, nGeneShape, nGeneOutliers.map(o => o.map(v => [0, v])), [[], [], [], [], []]);

// ---- panel B ----
panelLetter('B', 489, 47);
const row20 = {top: 103, bottom: 354, xlabDy: 24, r: 1.7};
violinPanel(Object.assign({}, row20, {left: 528, right: 863, yMin: 0, yMax: 7.36, ticks: [0, 2, 4, 6],
  title: 'Wnt2/4/5', tx: 693, ty: 96.5, yTitle: 'Expression (log FPKM)', yTitleX: 499, yTitleY: 240}),
  cats20, colors20, wnt20Shape, wnt20Dots, wnt20Zero);
violinPanel(Object.assign({}, row20, {left: 914, right: 1252, bottom: 353, yMin: 0, yMax: 5.03, ticks: [0, 1, 2, 3, 4, 5],
  title: 'Mhc3', tx: 1085, ty: 97.5}),
  cats20, colors20, mhc20Shape, mhc20Dots, mhc20Zero);

violinPanel({left: 349, top: 503, right: 600, bottom: 714, yMin: 0, yMax: 6.03, ticks: [0, 2, 4, 6], vw: 0.544,
  xlabDy: 23, title: 'Gata4/5/6', titleLen: 81, tx: 483, ty: 498.5, yTitle: 'Expression (log FPKM)', yTitleX: 326, yTitleY: 618},
  cats12, colors12, gata12Shape, gata12Dots, gata12Zero);
violinPanel({left: 621, top: 505, right: 872, bottom: 717, yMin: 0, yMax: 6.42, ticks: [0, 2, 4, 6], vw: 0.544,
  xlabDy: 21, title: 'Nk4/Nkx2-5', titleLen: 113, tx: 760, ty: 500.5},
  cats12, colors12, nk12Shape, nk12Dots, nk12Zero);
violinPanel({left: 892, top: 506, right: 1142, bottom: 717, yMin: 0, yMax: 6.03, ticks: [0, 2, 4, 6], vw: 0.544,
  xlabDy: 21, title: 'Bmp2/4', tx: 1010, ty: 500.5},
  cats12, colors12, bmp12Shape, bmp12Dots, bmp12Zero);
legend(1155, 508, 15.5, cats12, colors12);

// ---- panel C ----
panelLetter('C', 22, 751);
violinPanel({left: 352, top: 777, right: 598, bottom: 988, yMin: 0, yMax: 6.06, ticks: [0, 2, 4, 6],
  xlabDy: 23, title: 'Gata4/5/6', titleLen: 78, tx: 498, ty: 773.5, yTitle: 'Expression (log FPKM)', yTitleX: 326, yTitleY: 876},
  cats14, colors14, gata14Shape, gata14Dots, gata14Zero);
violinPanel({left: 623, top: 777, right: 869, bottom: 988, yMin: 0, yMax: 6.03, ticks: [0, 2, 4, 6],
  xlabDy: 23, title: 'Tbx1/10', titleLen: 66, tx: 746, ty: 773.5},
  cats14, colors14, tbx14Shape, tbx14Dots, tbx14Zero);
violinPanel({left: 892, top: 777, right: 1138, bottom: 988, yMin: 0, yMax: 6.5, ticks: [0, 2, 4, 6],
  xlabDy: 23, title: 'Slit', titleLen: 26, tx: 1023, ty: 773.5},
  cats14, colors14, slit14Shape, slit14Dots, slit14Zero);
legend(1149, 779, 16, cats14, colors14);

violinPanel({left: 352, top: 1056, right: 601, bottom: 1267, yMin: 0, yMax: 6.66, ticks: [0, 2, 4, 6],
  xlabDy: 17, title: 'Gata4/5/6', titleLen: 78, tx: 479, ty: 1046.5, yTitle: 'Expression (log FPKM)', yTitleX: 324, yTitleY: 1154},
  cats16, colors16, gata16Shape, gata16Dots, gata16Zero);
violinPanel({left: 624, top: 1056, right: 874, bottom: 1267, yMin: 0, yMax: 6.5, ticks: [0, 2, 4, 6],
  xlabDy: 17, title: 'Tbx1/10', titleLen: 66, tx: 752, ty: 1050.5},
  cats16, colors16, tbx16Shape, tbx16Dots, tbx16Zero);
violinPanel({left: 892, top: 1056, right: 1142, bottom: 1267, yMin: 0, yMax: 7.58, ticks: [0, 2, 4, 6],
  xlabDy: 17, title: 'Ebf', titleLen: 30, tx: 1010, ty: 1050.5},
  cats16, colors16, ebf16Shape, ebf16Dots, ebf16Zero);
legend(1156, 1056, 16.5, cats16, colors16);

violinPanel({left: 353, top: 1338, right: 602, bottom: 1548, yMin: 0, yMax: 6.16, ticks: [0, 2, 4, 6],
  xlabDy: 21, title: 'Gata4/5/6', titleLen: 78, tx: 487, ty: 1331.5, yTitle: 'Expression (log FPKM)', yTitleX: 324, yTitleY: 1438},
  cats18, colors18, gata18Shape, gata18Dots, gata18Zero);
violinPanel({left: 622, top: 1338, right: 872, bottom: 1548, yMin: 0, yMax: 5.57, ticks: [0, 2, 4],
  xlabDy: 21, title: 'Tbx1/10', titleLen: 66, tx: 754, ty: 1333.5},
  cats18, colors18, tbx18Shape, tbx18Dots, tbx18Zero);
violinPanel({left: 892, top: 1338, right: 1142, bottom: 1548, yMin: 0, yMax: 7.29, ticks: [0, 2, 4, 6],
  xlabDy: 21, title: 'Ebf', titleLen: 31, tx: 1016, ty: 1333.5},
  cats18, colors18, ebf18Shape, ebf18Dots, ebf18Zero);
legend(1156, 1339, 16.5, cats18, colors18);

tsnePanel({id: 'c14', left: 46, top: 769, right: 287, bottom: 982, xd: [-69.6, 75.4], yd: [-74.8, 83.4],
  xt: [-60, -40, -20, 0, 20, 40, 60], yt: [-50, 0, 50], xlabY: 1010.5, t1Y: 1025},
  [tsne14Fhp, tsne14Stvc], ['#ff0000', '#ffff00'], [['14FHP', -9, 0], ['14STVC', 56, -16]]);
tsnePanel({id: 'c16', left: 46, top: 1053, right: 288, bottom: 1267, xd: [-89.2, 78.2], yd: [-97.2, 83.1],
  xt: [-50, 0, 50], yt: [-50, 0, 50], xlabY: 1290.5, t1Y: 1310.5},
  [tsne16Fhp, tsne16Shp, tsne16Asm], ['#ff0000', '#ffa500', '#0000ff'],
  [['16ASM', 24.8, 34.6], ['16FHP', -60.5, -16.9], ['16SHP', 31.7, -52.1]]);
tsnePanel({id: 'c18', left: 46, top: 1338, right: 288, bottom: 1548, xd: [-127.6, 93], yd: [-98.5, 89],
  xt: [-100, -50, 0, 50], yt: [-50, 0, 50], xlabY: 1572.5, t1Y: 1590.5},
  [tsne18Fhp, tsne18Shp, tsne18Asm], ['#ff0000', '#ffa500', '#0000ff'],
  [['18ASM', 68.8, 43.9], ['18FHP', -75.2, 9.2], ['18SHP', 6.7, -54.9]]);
</script>
</body>
</html>
